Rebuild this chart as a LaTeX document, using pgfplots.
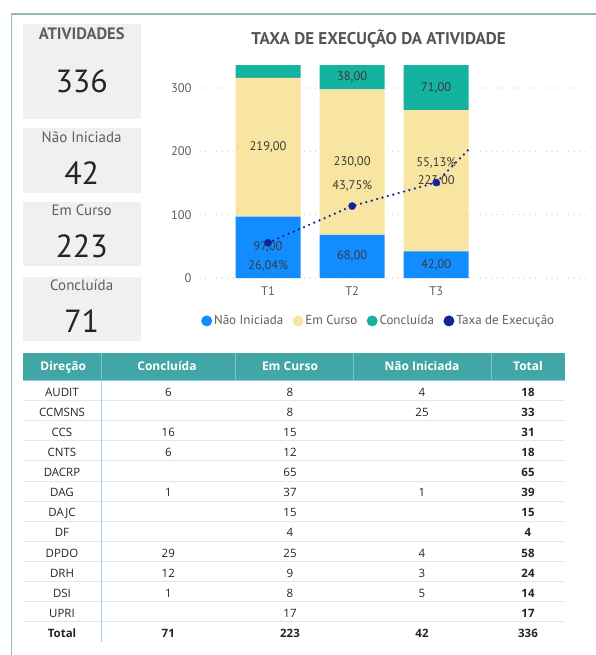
\documentclass[border=0pt]{standalone}
\usepackage{fontspec}
\setmainfont{PT Sans}
\newfontfamily\tablefont{Open Sans}
\usepackage{pgfplots}
\usepackage{pgfplotstable}
\pgfplotsset{compat=1.18}

\definecolor{cBlue}{HTML}{118DFF}
\definecolor{cYellow}{HTML}{F8E5A1}
\definecolor{cTeal}{HTML}{13B3A0}
\definecolor{cNavy}{HTML}{12239E}
\definecolor{cardbg}{HTML}{F0F0F0}
\definecolor{framec}{HTML}{8CBDBD}
\definecolor{headc}{HTML}{42A6A6}
\definecolor{txt}{HTML}{252423}
\definecolor{soft}{HTML}{605E5C}
\definecolor{labelc}{HTML}{3B3A39}
\definecolor{rowline}{HTML}{E6E6E6}
\definecolor{bluebar}{HTML}{A9D1F5}

% stacked bars: value v, label text lbl
\pgfplotstableread{
x v lbl
1 97 97,00
2 68 68,00
3 42 42,00
}\naoini
\pgfplotstableread{
x v lbl
1 219 219,00
2 230 230,00
3 223 223,00
}\emcurso
\pgfplotstableread{
x v lbl
1 20 {}
2 38 38,00
3 71 71,00
}\concl

\newcommand\fs[1]{\fontsize{#1}{#1}\selectfont}

\begin{document}
\begin{tikzpicture}
\path[use as bounding box] (0pt,0pt) rectangle (595pt,-655pt);

\begin{scope}[x=1pt,y=-1pt]
  % outer frame
  \draw[framec, line width=1.5pt] (11.5,656) -- (11.5,14) -- (596,14);

  % KPI cards
  \fill[cardbg] (22.7,24) rectangle (140.7,119);
  \fill[cardbg] (22.7,128.3) rectangle (140.7,192.7);
  \fill[cardbg] (22.7,201.7) rectangle (140.7,266);
  \fill[cardbg] (22.7,276.7) rectangle (140.7,341);
  \node[anchor=base, text=soft, font=\bfseries\fs{16.5}] at (81.7,39.8) {ATIVIDADES};
  \node[anchor=base, text=txt, font=\fs{32}] at (81.7,92.5) {336};
  \node[anchor=base, text=soft, font=\fs{15}] at (81.7,142.3) {Não Iniciada};
  \node[anchor=base, text=txt, font=\fs{32}] at (81.7,184.3) {42};
  \node[anchor=base, text=soft, font=\fs{15}] at (81.7,215.7) {Em Curso};
  \node[anchor=base, text=txt, font=\fs{32}] at (81.7,257.9) {223};
  \node[anchor=base, text=soft, font=\fs{15}] at (81.7,290.7) {Concluída};
  \node[anchor=base, text=txt, font=\fs{32}] at (81.7,332.9) {71};

  % chart title
  \node[anchor=base, text=soft!90!black, font=\bfseries\fs{17}] at (378.5,44.2) {TAXA DE EXECUÇÃO DA ATIVIDADE};

  % table
  \fill[headc] (22.7,352.7) rectangle (565,380);
  \foreach \sx in {101.7,235,353.3,491.7}
    \draw[white, opacity=0.35, line width=0.6pt] (\sx,352.7) -- (\sx,380);
  \draw[cBlue!50, line width=0.8pt] (22.7,380) -- (565,380);
  \foreach \k in {0,...,11}
    \draw[rowline, line width=0.8pt] (22.7,400.5+20.1*\k) -- (565,400.5+20.1*\k);
  \draw[bluebar, line width=1.5pt] (101.7,380.5) -- (101.7,641.7);
  \begin{scope}[font=\tablefont\bfseries\fs{12}, text=white]
    \node[anchor=base] at (63.3,370.6) {Direção};
    \node[anchor=base] at (167,370.6) {Concluída};
    \node[anchor=base] at (290,370.6) {Em Curso};
    \node[anchor=base] at (422,370.6) {Não Iniciada};
    \node[anchor=base] at (528,370.6) {Total};
  \end{scope}
  \begin{scope}[font=\tablefont\fs{11.5}, text=txt]
    \foreach \n/\a/\b/\c/\t [count=\i from 0] in {
      AUDIT/6/8/4/18, CCMSNS//8/25/33, CCS/16/15//31, CNTS/6/12//18,
      DACRP//65//65, DAG/1/37/1/39, DAJC//15//15, DF//4//4,
      DPDO/29/25/4/58, DRH/12/9/3/24, DSI/1/8/5/14, UPRI//17//17}{
      \pgfmathsetmacro\yy{396+20.13*\i}
      \node[anchor=base] at (62,\yy) {\n};
      \node[anchor=base] at (168.3,\yy) {\a};
      \node[anchor=base] at (290,\yy) {\b};
      \node[anchor=base] at (422,\yy) {\c};
      \node[anchor=base, font=\tablefont\bfseries\fs{11.5}] at (528,\yy) {\t};
    }
  \end{scope}
  \begin{scope}[font=\tablefont\bfseries\fs{11.5}, text=txt]
    \node[anchor=base] at (62,637.6) {Total};
    \node[anchor=base] at (168.3,637.6) {71};
    \node[anchor=base] at (290,637.6) {223};
    \node[anchor=base] at (422,637.6) {42};
    \node[anchor=base] at (528,637.6) {336};
  \end{scope}
\end{scope}

% stacked bars
\begin{axis}[
  at={(200pt,-278pt)}, anchor=south west,
  scale only axis, width=390pt, height=215.3pt,
  xmin=0.19, xmax=4.83, ymin=0, ymax=340,
  ybar stacked, bar width=0.774,
  axis line style={draw=none}, major tick length=0pt,
  xtick={1,2,3}, xticklabels={T1,T2,T3},
  ytick={0,100,200,300},
  ymajorgrids,
  grid style={draw=gray!45, line width=1.1pt, line cap=round, dash pattern=on 0pt off 5.5pt},
  tick label style={font=\fs{12.5}, text=soft},
  /pgf/number format/assume math mode=true,
  yticklabel style={xshift=-5pt},
  xticklabel style={yshift=-5pt},
  legend style={at={(0,0)}, anchor=north west, xshift=1pt, yshift=-35.5pt,
    draw=none, fill=none, inner sep=0pt, legend columns=-1,
    font=\fs{13},
    nodes={inner sep=1.8pt, text=soft},
    /tikz/every even column/.append style={column sep=7.5pt}},
  legcirc/.style={legend image code/.code={\fill (0pt,0pt) circle (5.5pt);}},
  seglabels/.style={nodes near coords, point meta=explicit symbolic,
    every node near coord/.append style={anchor=center,
      font=\fs{12.5}, text=labelc}},
]
\addplot[fill=cBlue, draw=none, seglabels, forget plot] table[x=x, y=v, meta=lbl] {\naoini};
\addplot[fill=cYellow, draw=none, seglabels, forget plot] table[x=x, y=v, meta=lbl] {\emcurso};
\addplot[fill=cTeal, draw=none, seglabels, forget plot] table[x=x, y=v, meta=lbl] {\concl};
\addlegendimage{fill=cBlue, draw=none, legcirc}
\addlegendimage{fill=cYellow, draw=none, legcirc}
\addlegendimage{fill=cTeal, draw=none, legcirc}
\addlegendimage{fill=cNavy, draw=none, legcirc}
\legend{Não Iniciada, Em Curso, Concluída, Taxa de Execução}
\end{axis}

% execution rate line (secondary scale, hidden)
\begin{axis}[
  at={(200pt,-278pt)}, anchor=south west,
  scale only axis, width=390pt, height=215.3pt,
  xmin=0.19, xmax=4.83, ymin=9, ymax=113,
  hide axis, clip=false,
  every node near coord/.append style={anchor=center, font=\fs{12.5}, text=labelc},
]
\addplot[cNavy, line width=2.5pt, line cap=round, dash pattern=on 0pt off 5.6pt] table {
x p
1 26.04
2 43.75
3 55.13
3.38 70.8
};
\addplot[only marks, mark=*, mark size=3.6pt, color=cNavy,
  nodes near coords, point meta=explicit symbolic,
  every node near coord/.append style={yshift=-23pt}] table[meta=l] {
x p l
1 26.04 26,04\%
};
\addplot[only marks, mark=*, mark size=3.6pt, color=cNavy,
  nodes near coords, point meta=explicit symbolic,
  every node near coord/.append style={yshift=20pt}] table[meta=l] {
x p l
2 43.75 43,75\%
3 55.13 55,13\%
};
\end{axis}
\end{tikzpicture}
\end{document}
